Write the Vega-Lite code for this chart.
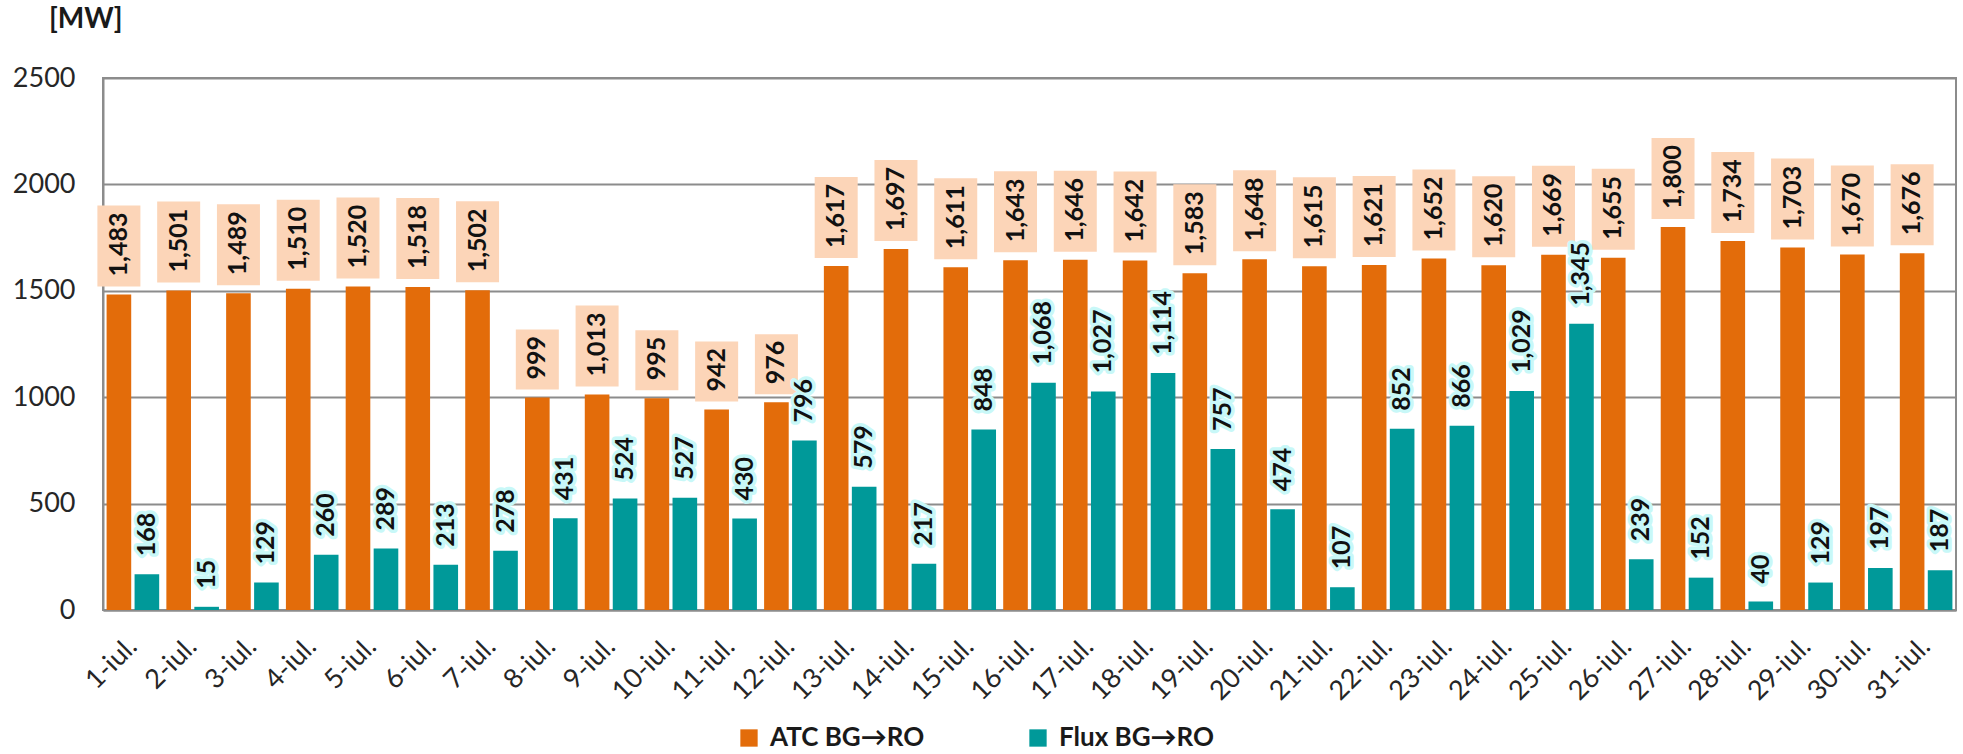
{
  "$schema": "https://vega.github.io/schema/vega-lite/v6.json",
  "width": 1853,
  "height": 532,
  "padding": {"left": 12, "top": 6, "right": 5, "bottom": 0},
  "background": "white",
  "title": {
    "text": "[MW]",
    "anchor": "start",
    "frame": "group",
    "dx": -54,
    "offset": 30,
    "font": "Lato",
    "fontSize": 28,
    "fontWeight": "bold",
    "color": "#1a1a1a"
  },
  "config": {
    "view": {"stroke": "#8c8c8c", "strokeWidth": 2},
    "font": "Lato"
  },
  "data": {
    "values": [
      {"day": "1-iul.", "series": "ATC BG→RO", "value": 1483},
      {"day": "2-iul.", "series": "ATC BG→RO", "value": 1501},
      {"day": "3-iul.", "series": "ATC BG→RO", "value": 1489},
      {"day": "4-iul.", "series": "ATC BG→RO", "value": 1510},
      {"day": "5-iul.", "series": "ATC BG→RO", "value": 1520},
      {"day": "6-iul.", "series": "ATC BG→RO", "value": 1518},
      {"day": "7-iul.", "series": "ATC BG→RO", "value": 1502},
      {"day": "8-iul.", "series": "ATC BG→RO", "value": 999},
      {"day": "9-iul.", "series": "ATC BG→RO", "value": 1013},
      {"day": "10-iul.", "series": "ATC BG→RO", "value": 995},
      {"day": "11-iul.", "series": "ATC BG→RO", "value": 942},
      {"day": "12-iul.", "series": "ATC BG→RO", "value": 976},
      {"day": "13-iul.", "series": "ATC BG→RO", "value": 1617},
      {"day": "14-iul.", "series": "ATC BG→RO", "value": 1697},
      {"day": "15-iul.", "series": "ATC BG→RO", "value": 1611},
      {"day": "16-iul.", "series": "ATC BG→RO", "value": 1643},
      {"day": "17-iul.", "series": "ATC BG→RO", "value": 1646},
      {"day": "18-iul.", "series": "ATC BG→RO", "value": 1642},
      {"day": "19-iul.", "series": "ATC BG→RO", "value": 1583},
      {"day": "20-iul.", "series": "ATC BG→RO", "value": 1648},
      {"day": "21-iul.", "series": "ATC BG→RO", "value": 1615},
      {"day": "22-iul.", "series": "ATC BG→RO", "value": 1621},
      {"day": "23-iul.", "series": "ATC BG→RO", "value": 1652},
      {"day": "24-iul.", "series": "ATC BG→RO", "value": 1620},
      {"day": "25-iul.", "series": "ATC BG→RO", "value": 1669},
      {"day": "26-iul.", "series": "ATC BG→RO", "value": 1655},
      {"day": "27-iul.", "series": "ATC BG→RO", "value": 1800},
      {"day": "28-iul.", "series": "ATC BG→RO", "value": 1734},
      {"day": "29-iul.", "series": "ATC BG→RO", "value": 1703},
      {"day": "30-iul.", "series": "ATC BG→RO", "value": 1670},
      {"day": "31-iul.", "series": "ATC BG→RO", "value": 1676},
      {"day": "1-iul.", "series": "Flux BG→RO", "value": 168},
      {"day": "2-iul.", "series": "Flux BG→RO", "value": 15},
      {"day": "3-iul.", "series": "Flux BG→RO", "value": 129},
      {"day": "4-iul.", "series": "Flux BG→RO", "value": 260},
      {"day": "5-iul.", "series": "Flux BG→RO", "value": 289},
      {"day": "6-iul.", "series": "Flux BG→RO", "value": 213},
      {"day": "7-iul.", "series": "Flux BG→RO", "value": 278},
      {"day": "8-iul.", "series": "Flux BG→RO", "value": 431},
      {"day": "9-iul.", "series": "Flux BG→RO", "value": 524},
      {"day": "10-iul.", "series": "Flux BG→RO", "value": 527},
      {"day": "11-iul.", "series": "Flux BG→RO", "value": 430},
      {"day": "12-iul.", "series": "Flux BG→RO", "value": 796},
      {"day": "13-iul.", "series": "Flux BG→RO", "value": 579},
      {"day": "14-iul.", "series": "Flux BG→RO", "value": 217},
      {"day": "15-iul.", "series": "Flux BG→RO", "value": 848},
      {"day": "16-iul.", "series": "Flux BG→RO", "value": 1068},
      {"day": "17-iul.", "series": "Flux BG→RO", "value": 1027},
      {"day": "18-iul.", "series": "Flux BG→RO", "value": 1114},
      {"day": "19-iul.", "series": "Flux BG→RO", "value": 757},
      {"day": "20-iul.", "series": "Flux BG→RO", "value": 474},
      {"day": "21-iul.", "series": "Flux BG→RO", "value": 107},
      {"day": "22-iul.", "series": "Flux BG→RO", "value": 852},
      {"day": "23-iul.", "series": "Flux BG→RO", "value": 866},
      {"day": "24-iul.", "series": "Flux BG→RO", "value": 1029},
      {"day": "25-iul.", "series": "Flux BG→RO", "value": 1345},
      {"day": "26-iul.", "series": "Flux BG→RO", "value": 239},
      {"day": "27-iul.", "series": "Flux BG→RO", "value": 152},
      {"day": "28-iul.", "series": "Flux BG→RO", "value": 40},
      {"day": "29-iul.", "series": "Flux BG→RO", "value": 129},
      {"day": "30-iul.", "series": "Flux BG→RO", "value": 197},
      {"day": "31-iul.", "series": "Flux BG→RO", "value": 187}
    ]
  },
  "encoding": {
    "x": {
      "field": "day",
      "type": "nominal",
      "sort": null,
      "scale": {"paddingInner": 0.12, "paddingOuter": 0.06},
      "axis": {
        "title": null,
        "labelAngle": -45,
        "labelAlign": "right",
        "labelBaseline": "middle",
        "labelPadding": 32,
        "labelFont": "Lato",
        "labelFontSize": 27,
        "labelColor": "#262626",
        "ticks": false,
        "domainColor": "#8c8c8c",
        "domainWidth": 2,
        "grid": false
      }
    },
    "xOffset": {
      "field": "series",
      "type": "nominal",
      "sort": ["ATC BG→RO", "Flux BG→RO"],
      "scale": {"paddingInner": 0.12}
    },
    "y": {
      "field": "value",
      "type": "quantitative",
      "scale": {"domain": [0, 2500], "nice": false},
      "axis": {
        "title": null,
        "values": [0, 500, 1000, 1500, 2000, 2500],
        "format": "d",
        "labelFont": "Lato",
        "labelFontSize": 27,
        "labelColor": "#262626",
        "labelPadding": 28,
        "ticks": false,
        "domainColor": "#8c8c8c",
        "domainWidth": 2,
        "gridColor": "#8c8c8c",
        "gridWidth": 2
      }
    }
  },
  "layer": [
    {
      "mark": {"type": "bar"},
      "encoding": {
        "color": {
          "field": "series",
          "type": "nominal",
          "scale": {"domain": ["ATC BG→RO", "Flux BG→RO"], "range": ["#E36C0A", "#009999"]},
          "legend": {
            "title": null,
            "orient": "none",
            "direction": "horizontal",
            "legendX": 633,
            "legendY": 647,
            "symbolType": "square",
            "symbolSize": 300,
            "symbolStrokeWidth": 0,
            "labelFont": "Lato",
            "labelFontSize": 26,
            "labelFontWeight": "bold",
            "labelColor": "#1a1a1a",
            "labelOffset": 8,
            "columnPadding": 100,
            "padding": 0
          }
        }
      }
    },
    {
      "transform": [{"filter": "datum.series == 'ATC BG→RO' && datum.value >= 1000"}],
      "mark": {
        "type": "point",
        "filled": true,
        "opacity": 1,
        "color": "#FCD5B8",
        "strokeWidth": 0,
        "shape": "M-0.531,-1L0.531,-1L0.531,1L-0.531,1Z",
        "size": 6561,
        "yOffset": -48.5
      }
    },
    {
      "transform": [{"filter": "datum.series == 'ATC BG→RO' && datum.value < 1000"}],
      "mark": {
        "type": "point",
        "filled": true,
        "opacity": 1,
        "color": "#FCD5B8",
        "strokeWidth": 0,
        "shape": "M-0.717,-1L0.717,-1L0.717,1L-0.717,1Z",
        "size": 3600,
        "yOffset": -38
      }
    },
    {
      "transform": [{"filter": "datum.series == 'Flux BG→RO'"}],
      "mark": {
        "type": "text",
        "angle": 270,
        "align": "left",
        "baseline": "middle",
        "dx": 18,
        "font": "Lato",
        "fontSize": 25,
        "fontWeight": "bold",
        "fill": "#C8F8F8",
        "stroke": "#C8F8F8",
        "strokeWidth": 7,
        "strokeJoin": "round"
      },
      "encoding": {"text": {"field": "value", "type": "quantitative", "format": ","}}
    },
    {
      "mark": {
        "type": "text",
        "angle": 270,
        "align": "left",
        "baseline": "middle",
        "dx": 18,
        "font": "Lato",
        "fontSize": 25,
        "fontWeight": "bold",
        "color": "#111111"
      },
      "encoding": {"text": {"field": "value", "type": "quantitative", "format": ","}}
    }
  ]
}
